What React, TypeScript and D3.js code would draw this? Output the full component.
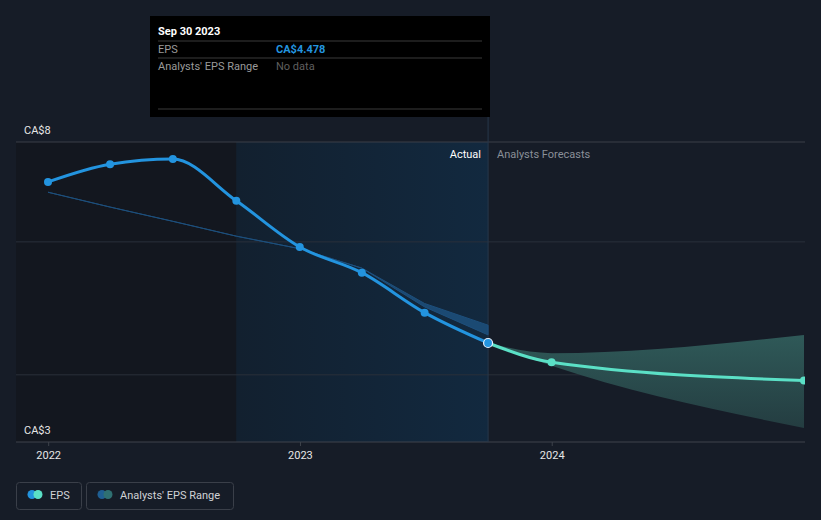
import React from "react";
import * as d3 from "d3";

const W = 821;
const H = 520;

// Actual EPS (CA$), quarterly
const actualDates = ["2021-12-31", "2022-03-31", "2022-06-30", "2022-09-30", "2022-12-31", "2023-03-31", "2023-06-30", "2023-09-30"];
const actualEps = [7.3, 7.61, 7.7, 6.97, 6.16, 5.71, 5.01, 4.478];

// Past analysts' range (low / high)
const pastRangeDates = ["2021-12-31", "2022-03-31", "2022-06-30", "2022-09-30", "2022-12-31", "2023-03-31", "2023-06-30", "2023-09-30"];
const pastRangeLow = [7.12, 6.86, 6.61, 6.35, 6.13, 5.79, 5.11, 4.62];
const pastRangeHigh = [7.12, 6.86, 6.61, 6.35, 6.13, 5.79, 5.17, 4.79];

// Forecast EPS
const forecastDates = ["2023-09-30", "2023-12-31", "2024-12-31"];
const forecastEps = [4.478, 4.14, 3.82];
const forecastLow = [4.478, 4.08, 2.99];
const forecastHigh = [4.478, 4.3, 4.62];

// Axes
const yDomain = [2.743, 8];
const gridValues = [8, 6.25, 3.92];
const yLabels = ["CA$8", "CA$3"];
const xTickDates = ["2022-01-01", "2023-01-01", "2024-01-01"];
const xTickLabels = ["2022", "2023", "2024"];
const regionDates = ["2022-09-30", "2023-09-30"];

const parse = d3.timeParse("%Y-%m-%d");

export default function App() {
  const left = 16;
  const right = 805;
  const top = 142;
  const bottom = 442;

  const x = d3
    .scaleTime()
    .domain([parse("2021-12-31")!, parse("2024-12-31")!])
    .range([48, 804]);
  const y = d3.scaleLinear().domain(yDomain).range([bottom, top]);

  const actual = actualDates.map((d, i) => ({ date: parse(d)!, v: actualEps[i] }));
  const past = pastRangeDates.map((d, i) => ({ date: parse(d)!, lo: pastRangeLow[i], hi: pastRangeHigh[i] }));
  const fc = forecastDates.map((d, i) => ({ date: parse(d)!, v: forecastEps[i], lo: forecastLow[i], hi: forecastHigh[i] }));

  const line = d3
    .line<{ date: Date; v: number }>()
    .x((d) => x(d.date))
    .y((d) => y(d.v))
    .curve(d3.curveMonotoneX);

  const pastArea = d3
    .area<{ date: Date; lo: number; hi: number }>()
    .x((d) => x(d.date))
    .y0((d) => y(d.lo))
    .y1((d) => y(d.hi))
    .curve(d3.curveLinear);

  const fcArea = d3
    .area<{ date: Date; lo: number; hi: number }>()
    .x((d) => x(d.date))
    .y0((d) => y(d.lo))
    .y1((d) => y(d.hi))
    .curve(d3.curveMonotoneX);

  const r0 = x(parse(regionDates[0])!);
  const r1 = x(parse(regionDates[1])!);
  const font = "Roboto, 'Noto Sans', sans-serif";

  return (
    <svg
      width={W}
      height={H}
      style={{ position: "absolute", left: 0, top: 0, display: "block" }}
      fontFamily={font}
    >
      <defs>
        <linearGradient id="actualGrad" x1="0" x2="1" y1="0" y2="0">
          <stop offset="0" stopColor="#12202f" />
          <stop offset="1" stopColor="#12293f" />
        </linearGradient>
        <linearGradient id="fcGrad" x1="0" x2="0" y1="0" y2="1">
          <stop offset="0" stopColor="#2f5958" />
          <stop offset="1" stopColor="#243d41" />
        </linearGradient>
        <clipPath id="plotClip">
          <rect x={left} y={0} width={right - left} height={bottom} />
        </clipPath>
      </defs>
      <rect x={0} y={0} width={W} height={H} fill="#161c27" />

      {/* shaded past regions */}
      <rect x={left} y={top} width={r0 - left} height={bottom - top} fill="#13171f" />
      <rect x={r0} y={top} width={r1 - r0} height={bottom - top} fill="url(#actualGrad)" />

      {/* grid */}
      {gridValues.map((g, i) => (
        <line key={i} x1={left} x2={right} y1={y(g)} y2={y(g)} stroke={i === 0 ? "#3a3f49" : "#2a303a"} strokeWidth={1} />
      ))}
      <line x1={left} x2={right} y1={bottom} y2={bottom} stroke="#3e434c" strokeWidth={1} />
      {xTickDates.map((d, i) => (
        <g key={d}>
          <line x1={x(parse(d)!)} x2={x(parse(d)!)} y1={bottom} y2={bottom + 4} stroke="#3e434c" />
          <text x={x(parse(d)!)} y={459} fill="#e6e6e6" fontSize={11} textAnchor="middle">
            {xTickLabels[i]}
          </text>
        </g>
      ))}
      <text x={24} y={134} fill="#e6e6e6" fontSize={11}>{yLabels[0]}</text>
      <text x={24} y={434} fill="#e6e6e6" fontSize={11}>{yLabels[1]}</text>

      {/* divider */}
      <line x1={r1} x2={r1} y1={117} y2={bottom} stroke="#27384a" strokeWidth={1} />
      <text x={481} y={158} fill="#ffffff" fontSize={11} textAnchor="end">Actual</text>
      <text x={497} y={158} fill="#8a8f98" fontSize={11}>Analysts Forecasts</text>

      <g clipPath="url(#plotClip)">
        {/* past analyst range */}
        <path d={pastArea(past)!} fill="#1f5586" fillOpacity={0.75} stroke="#1d4f7c" strokeWidth={1} />
        {/* forecast range */}
        <path d={fcArea(fc)!} fill="url(#fcGrad)" />
        {/* forecast line */}
        <path d={line(fc)!} fill="none" stroke="#5be0c6" strokeWidth={3} />
        {fc.slice(1).map((d, i) => (
          <circle key={i} cx={x(d.date)} cy={y(d.v)} r={4} fill="#5be0c6" />
        ))}
        {/* actual line */}
        <path d={line(actual)!} fill="none" stroke="#2394df" strokeWidth={3} />
        {actual.slice(0, -1).map((d, i) => (
          <circle key={i} cx={x(d.date)} cy={y(d.v)} r={4} fill="#2394df" />
        ))}
        <circle
          cx={x(actual[actual.length - 1].date)}
          cy={y(actual[actual.length - 1].v)}
          r={4.5}
          fill="#2394df"
          stroke="#e8f2ff"
          strokeWidth={1.2}
        />
      </g>

      {/* tooltip */}
      <rect x={150} y={16} width={340} height={101} fill="#000000" />
      <text x={158} y={35} fill="#ffffff" fontSize={11} fontWeight="bold">Sep 30 2023</text>
      <line x1={158} x2={482} y1={41} y2={41} stroke="#3a3a3a" />
      <text x={158} y={53} fill="#9a9a9a" fontSize={11}>EPS</text>
      <text x={276} y={53} fill="#2394df" fontSize={11} fontWeight="bold">CA$4.478</text>
      <line x1={158} x2={482} y1={58} y2={58} stroke="#3a3a3a" />
      <text x={158} y={70} fill="#9a9a9a" fontSize={11}>Analysts' EPS Range</text>
      <text x={276} y={70} fill="#5f5f5f" fontSize={11}>No data</text>
      <line x1={158} x2={482} y1={109} y2={109} stroke="#3a3a3a" />

      {/* legend */}
      <rect x={16.5} y={482.5} width={65} height={27} rx={3} fill="none" stroke="#3a3f49" />
      <circle cx={32} cy={494.5} r={4.5} fill="#2394df" />
      <circle cx={38} cy={494.5} r={4.5} fill="#5be0c6" />
      <text x={50} y={498.5} fill="#d0d2d6" fontSize={11}>EPS</text>
      <rect x={86.5} y={482.5} width={147} height={27} rx={3} fill="none" stroke="#3a3f49" />
      <circle cx={102} cy={494.5} r={4.5} fill="#1f5f93" />
      <circle cx={108} cy={494.5} r={4.5} fill="#2f7072" />
      <text x={120} y={498.5} fill="#d0d2d6" fontSize={11}>Analysts' EPS Range</text>
    </svg>
  );
}
